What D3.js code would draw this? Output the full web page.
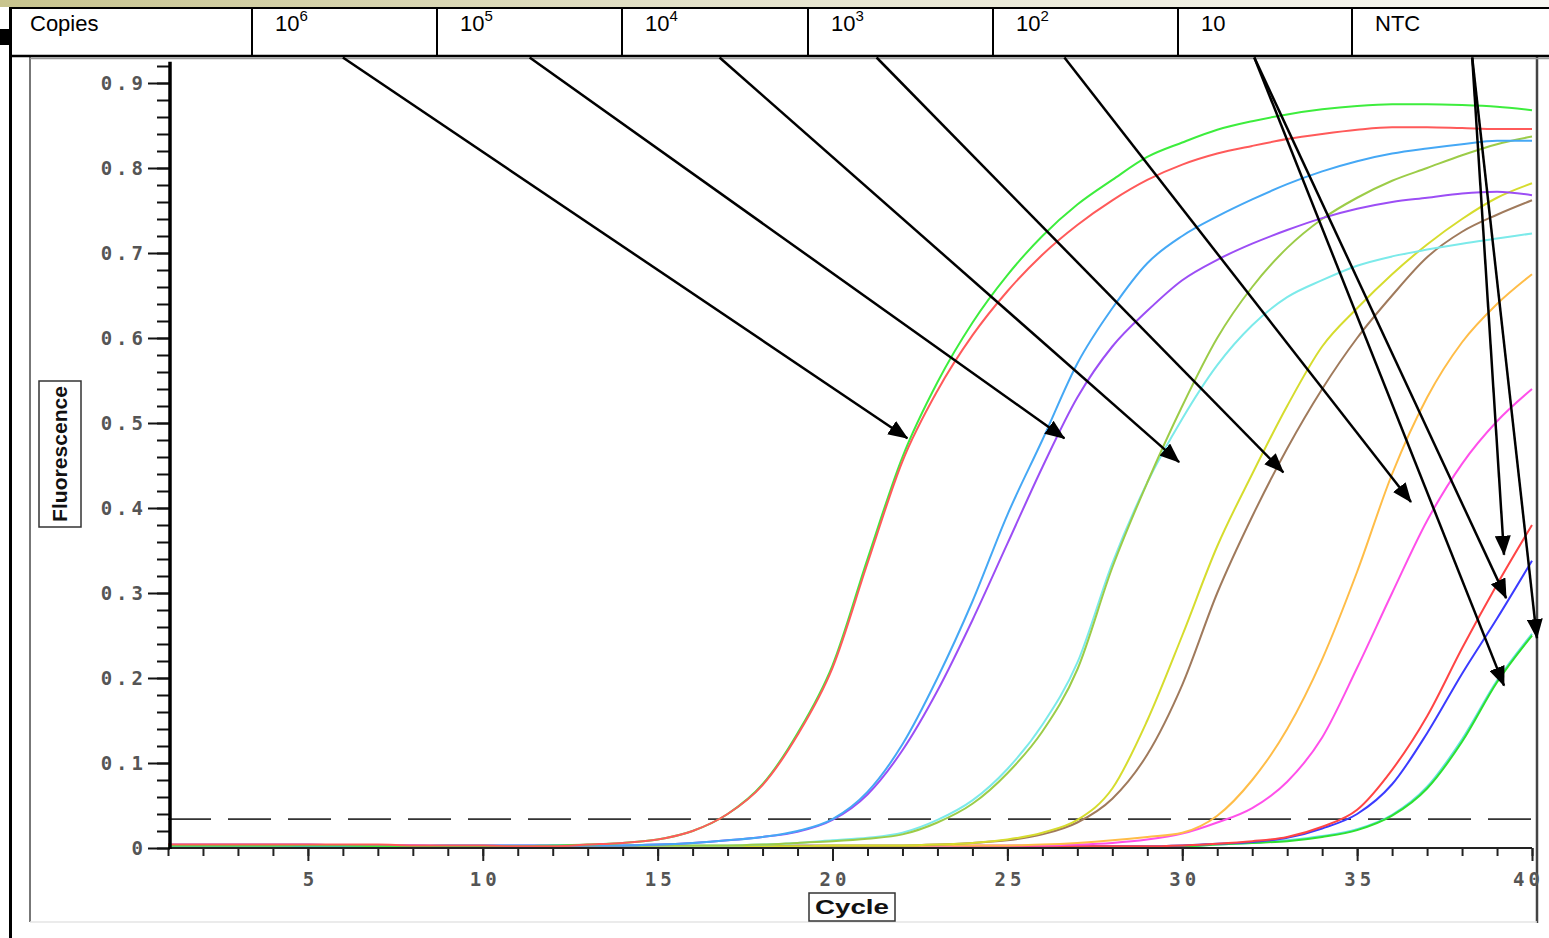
<!DOCTYPE html>
<html lang="en">
<head>
    <meta charset="UTF-8">
    <title>Real-time PCR amplification curves</title>
    <script src="https://d3js.org/d3.v7.min.js"></script>
    <style>
        body { margin: 0; background: #fff; overflow: hidden; }
        .curve { fill: none; stroke-width: 2; }
        .tick-label { font-family: "DejaVu Sans Mono", monospace; font-size: 19px; font-weight: bold; fill: #555; letter-spacing: 4px; }
        .header-text { font-family: "Liberation Sans", Arial, sans-serif; font-size: 22px; fill: #000; }
        .axis-title { font-family: "Liberation Sans Narrow", "Liberation Sans", Arial, sans-serif; font-weight: bold; font-size: 20px; fill: #111; }
    </style>
</head>
<body>
    <div id="chart"></div>
    <script type="text/javascript">
        // cycle numbers along the x axis
        const cycles = [1, 2, 3, 4, 5, 6, 7, 8, 9, 10, 11, 12, 13, 14, 15, 16, 17, 18, 19, 20,
                        21, 22, 23, 24, 25, 26, 27, 28, 29, 30, 31, 32, 33, 34, 35, 36, 37, 38, 39, 40];

        // fluorescence per cycle
        const green1e6 = [0.003, 0.003, 0.003, 0.003, 0.003, 0.003, 0.002, 0.002, 0.002, 0.002, 0.002, 0.003, 0.004, 0.006, 0.010, 0.020, 0.040, 0.075, 0.135, 0.215,
                          0.340, 0.460, 0.548, 0.618, 0.674, 0.720, 0.757, 0.786, 0.813, 0.830, 0.845, 0.855, 0.863, 0.869, 0.873, 0.875, 0.875, 0.874, 0.872, 0.868];
        const red1e6   = [0.004, 0.004, 0.004, 0.004, 0.004, 0.004, 0.004, 0.003, 0.003, 0.003, 0.002, 0.002, 0.004, 0.006, 0.010, 0.020, 0.040, 0.074, 0.133, 0.212,
                          0.335, 0.455, 0.538, 0.603, 0.655, 0.698, 0.733, 0.762, 0.786, 0.804, 0.817, 0.826, 0.834, 0.840, 0.845, 0.848, 0.848, 0.847, 0.846, 0.846];
        const blue1e5  = [0.003, 0.003, 0.003, 0.003, 0.002, 0.002, 0.002, 0.002, 0.003, 0.003, 0.003, 0.003, 0.003, 0.003, 0.004, 0.006, 0.009, 0.013, 0.020, 0.034,
                          0.066, 0.122, 0.200, 0.290, 0.392, 0.480, 0.570, 0.635, 0.688, 0.720, 0.743, 0.763, 0.781, 0.796, 0.808, 0.817, 0.823, 0.828, 0.832, 0.832];
        const purple1e5 = [0.004, 0.004, 0.004, 0.004, 0.004, 0.003, 0.003, 0.003, 0.003, 0.003, 0.003, 0.003, 0.003, 0.003, 0.004, 0.006, 0.009, 0.013, 0.019, 0.033,
                          0.063, 0.115, 0.185, 0.268, 0.358, 0.448, 0.530, 0.590, 0.632, 0.668, 0.692, 0.711, 0.727, 0.741, 0.752, 0.760, 0.765, 0.770, 0.772, 0.768];
        const olive1e4 = [0.001, 0.001, 0.001, 0.001, 0.001, 0.001, 0.002, 0.002, 0.002, 0.002, 0.002, 0.002, 0.002, 0.002, 0.003, 0.003, 0.003, 0.004, 0.006, 0.008,
                          0.011, 0.016, 0.030, 0.052, 0.088, 0.137, 0.210, 0.330, 0.430, 0.520, 0.600, 0.660, 0.706, 0.740, 0.765, 0.785, 0.800, 0.815, 0.828, 0.837];
        const cyan1e4  = [0.002, 0.002, 0.002, 0.002, 0.002, 0.002, 0.002, 0.002, 0.002, 0.002, 0.002, 0.002, 0.002, 0.003, 0.003, 0.003, 0.003, 0.004, 0.006, 0.009,
                          0.012, 0.018, 0.033, 0.056, 0.093, 0.145, 0.218, 0.335, 0.430, 0.505, 0.568, 0.615, 0.648, 0.668, 0.685, 0.696, 0.704, 0.711, 0.717, 0.723];
        const yellow1e3 = [0.002, 0.002, 0.002, 0.002, 0.002, 0.002, 0.002, 0.002, 0.002, 0.002, 0.002, 0.002, 0.002, 0.002, 0.002, 0.002, 0.002, 0.002, 0.002, 0.003,
                          0.003, 0.003, 0.004, 0.006, 0.010, 0.018, 0.033, 0.070, 0.150, 0.250, 0.355, 0.440, 0.520, 0.590, 0.635, 0.675, 0.710, 0.740, 0.765, 0.782];
        const brown1e3 = [0.002, 0.002, 0.002, 0.002, 0.002, 0.002, 0.002, 0.002, 0.002, 0.002, 0.002, 0.002, 0.002, 0.002, 0.002, 0.002, 0.002, 0.002, 0.003, 0.003,
                          0.003, 0.003, 0.004, 0.006, 0.009, 0.016, 0.030, 0.058, 0.110, 0.192, 0.300, 0.390, 0.470, 0.540, 0.600, 0.650, 0.695, 0.725, 0.745, 0.762];
        const orange1e2 = [0.002, 0.002, 0.002, 0.002, 0.002, 0.002, 0.002, 0.002, 0.002, 0.002, 0.002, 0.002, 0.002, 0.002, 0.002, 0.002, 0.002, 0.002, 0.002, 0.002,
                          0.002, 0.002, 0.003, 0.003, 0.003, 0.004, 0.006, 0.009, 0.013, 0.018, 0.038, 0.080, 0.140, 0.222, 0.325, 0.440, 0.530, 0.595, 0.640, 0.675];
        const magenta1e2 = [0.003, 0.003, 0.003, 0.003, 0.003, 0.003, 0.003, 0.003, 0.002, 0.002, 0.002, 0.002, 0.002, 0.002, 0.002, 0.002, 0.002, 0.002, 0.002, 0.002,
                          0.002, 0.002, 0.002, 0.003, 0.003, 0.003, 0.004, 0.006, 0.010, 0.017, 0.030, 0.047, 0.078, 0.130, 0.212, 0.300, 0.385, 0.452, 0.502, 0.540];
        const red10    = [0.002, 0.002, 0.002, 0.002, 0.002, 0.002, 0.002, 0.002, 0.002, 0.002, 0.002, 0.002, 0.002, 0.002, 0.002, 0.002, 0.002, 0.002, 0.002, 0.002,
                          0.002, 0.002, 0.002, 0.002, 0.002, 0.002, 0.002, 0.002, 0.002, 0.003, 0.005, 0.008, 0.013, 0.025, 0.045, 0.092, 0.155, 0.235, 0.310, 0.380];
        const blue10   = [0.002, 0.002, 0.002, 0.002, 0.002, 0.002, 0.002, 0.002, 0.002, 0.002, 0.002, 0.002, 0.002, 0.002, 0.002, 0.002, 0.002, 0.002, 0.002, 0.002,
                          0.002, 0.002, 0.002, 0.002, 0.002, 0.002, 0.002, 0.002, 0.002, 0.003, 0.005, 0.007, 0.012, 0.023, 0.040, 0.075, 0.135, 0.205, 0.270, 0.338];
        const cyanNtc  = [0.001, 0.001, 0.001, 0.001, 0.001, 0.001, 0.001, 0.001, 0.001, 0.001, 0.001, 0.001, 0.001, 0.001, 0.001, 0.001, 0.001, 0.001, 0.001, 0.001,
                          0.001, 0.001, 0.001, 0.001, 0.001, 0.001, 0.001, 0.001, 0.001, 0.002, 0.004, 0.006, 0.009, 0.014, 0.022, 0.039, 0.072, 0.128, 0.197, 0.252];
        const greenNtc = [0.001, 0.001, 0.001, 0.001, 0.001, 0.001, 0.001, 0.001, 0.001, 0.001, 0.001, 0.001, 0.001, 0.001, 0.001, 0.001, 0.001, 0.001, 0.001, 0.001,
                          0.001, 0.001, 0.001, 0.001, 0.001, 0.001, 0.001, 0.001, 0.001, 0.002, 0.004, 0.006, 0.008, 0.013, 0.021, 0.038, 0.070, 0.125, 0.195, 0.250];

        const threshold = 0.034;

        // header table
        const headerBase = ["Copies", "10", "10", "10", "10", "10", "10", "NTC"];
        const headerExp  = ["", "6", "5", "4", "3", "2", "", ""];

        // axis ticks
        const yTickValues = [0, 0.1, 0.2, 0.3, 0.4, 0.5, 0.6, 0.7, 0.8, 0.9];
        const yTickLabels = ["0", "0.1", "0.2", "0.3", "0.4", "0.5", "0.6", "0.7", "0.8", "0.9"];
        const xTickValues = [5, 10, 15, 20, 25, 30, 35, 40];
        const xTickLabels = ["5", "10", "15", "20", "25", "30", "35", "40"];

        // arrows from the header row down to the curves, in chart units
        const arrowFromCycle = [6.0, 11.34, 16.77, 21.26, 26.63, 32.06, 32.06, 38.29, 38.29];
        const arrowToCycle   = [22.14, 26.63, 29.91, 32.89, 36.54, 39.26, 39.2, 39.2, 40.14];
        const arrowToValue   = [0.482, 0.482, 0.454, 0.442, 0.407, 0.294, 0.191, 0.345, 0.247];
        const arrowTopValue  = 0.93;

        const curves = [
            {values: cyanNtc, color: "#62e2e2"},
            {values: greenNtc, color: "#2fe02f"},
            {values: blue10, color: "#3b3bff"},
            {values: red10, color: "#ff4545"},
            {values: magenta1e2, color: "#ff50ea"},
            {values: orange1e2, color: "#ffbd48"},
            {values: brown1e3, color: "#a07a5c"},
            {values: yellow1e3, color: "#d6dc2e"},
            {values: cyan1e4, color: "#7ceaea"},
            {values: olive1e4, color: "#9ccc48"},
            {values: purple1e5, color: "#9c4ef5"},
            {values: blue1e5, color: "#45a8f5"},
            {values: green1e6, color: "#3ded3d"},
            {values: red1e6, color: "#ff5a5a"}
        ];

        const width = 1549, height = 938;
        const svg = d3.select("#chart").append("svg")
            .attr("width", width)
            .attr("height", height);

        const x = d3.scaleLinear().domain([1, 40]).range([168, 1532]);
        const y = d3.scaleLinear().domain([0, 0.9]).range([848, 83]);

        const defs = svg.append("defs");
        const band = defs.append("linearGradient").attr("id", "band");
        band.append("stop").attr("offset", "0%").attr("stop-color", "#c8c48e");
        band.append("stop").attr("offset", "45%").attr("stop-color", "#e4e2ca");
        band.append("stop").attr("offset", "100%").attr("stop-color", "#f8f8f4");

        defs.append("clipPath").attr("id", "plotClip")
            .append("rect").attr("x", 31).attr("y", 57).attr("width", 1505).attr("height", 865);

        defs.append("marker")
            .attr("id", "arrowhead")
            .attr("markerUnits", "userSpaceOnUse")
            .attr("viewBox", "0 0 20 16")
            .attr("markerWidth", 20)
            .attr("markerHeight", 16)
            .attr("refX", 19)
            .attr("refY", 8)
            .attr("orient", "auto")
            .append("path")
            .attr("d", "M0,0L20,8L0,16Z")
            .attr("fill", "#000");

        // top strip
        svg.append("rect").attr("width", width).attr("height", 7).attr("fill", "url(#band)");

        // plot panel
        svg.append("rect").attr("x", 30).attr("y", 57).attr("width", 1507).attr("height", 865).attr("fill", "#fff");
        svg.append("line").attr("x1", 30).attr("x2", 30).attr("y1", 57).attr("y2", 922).attr("stroke", "#777").attr("stroke-width", 2);
        svg.append("line").attr("x1", 1537).attr("x2", 1537).attr("y1", 57).attr("y2", 923).attr("stroke", "#444").attr("stroke-width", 2.5);
        svg.append("line").attr("x1", 30).attr("x2", 1537).attr("y1", 922).attr("y2", 922).attr("stroke", "#e4e4e4").attr("stroke-width", 1.5);
        svg.append("line").attr("x1", 30).attr("x2", 1549).attr("y1", 58.5).attr("y2", 58.5).attr("stroke", "#999").attr("stroke-width", 1.5);

        const plot = svg.append("g").attr("clip-path", "url(#plotClip)");

        // threshold line
        plot.append("line")
            .attr("x1", x(1)).attr("x2", 1536)
            .attr("y1", y(threshold)).attr("y2", y(threshold))
            .attr("stroke", "#333").attr("stroke-width", 1.6)
            .attr("stroke-dasharray", "43,17");

        // amplification curves
        const line = d3.line()
            .x((d, i) => x(cycles[i]))
            .y(d => y(d))
            .curve(d3.curveMonotoneX);

        plot.selectAll(".curve")
            .data(curves)
            .join("path")
            .attr("class", "curve")
            .attr("stroke", d => d.color)
            .attr("d", d => line(d.values));

        // Y axis: minor then major ticks
        const yMinor = svg.append("g").attr("transform", "translate(170,0)")
            .call(d3.axisLeft(y).tickValues(d3.range(0, 0.93, 0.02)).tickSize(13).tickFormat(""));
        const yMajor = svg.append("g").attr("transform", "translate(170,0)")
            .call(d3.axisLeft(y).tickValues(yTickValues).tickSize(22).tickPadding(1)
                .tickFormat((d, i) => yTickLabels[i]));
        [yMinor, yMajor].forEach(g => {
            g.select(".domain").remove();
            g.selectAll(".tick line").attr("stroke", "#111").attr("stroke-width", 2);
        });
        yMajor.selectAll(".tick text").attr("class", "tick-label");
        svg.append("line").attr("x1", 170).attr("x2", 170).attr("y1", y(0) + 1).attr("y2", y(0.925))
            .attr("stroke", "#000").attr("stroke-width", 3.5);

        // X axis: minor then major ticks (labels stay unclipped so "40" is whole)
        const xMinor = plot.append("g").attr("transform", "translate(0,848)")
            .call(d3.axisBottom(x).tickValues(cycles).tickSize(8).tickFormat(""));
        const xMajor = svg.append("g").attr("transform", "translate(0,848)")
            .call(d3.axisBottom(x).tickValues(xTickValues).tickSize(13).tickPadding(12)
                .tickFormat((d, i) => xTickLabels[i]));
        [xMinor, xMajor].forEach(g => {
            g.select(".domain").remove();
            g.selectAll(".tick line").attr("stroke", "#222").attr("stroke-width", 2);
        });
        xMajor.selectAll(".tick text").attr("class", "tick-label").attr("dx", "2");
        xMajor.selectAll(".tick").filter(d => d === 40).select("text").attr("dx", "-4");
        plot.append("line").attr("x1", x(1)).attr("x2", x(40)).attr("y1", y(0)).attr("y2", y(0))
            .attr("stroke", "#222").attr("stroke-width", 2);

        // axis titles in boxes
        svg.append("rect").attr("x", 39).attr("y", 381).attr("width", 42).attr("height", 146)
            .attr("fill", "#fff").attr("stroke", "#333").attr("stroke-width", 1.5);
        svg.append("text").attr("class", "axis-title")
            .attr("transform", "translate(67,454) rotate(-90)")
            .attr("text-anchor", "middle")
            .attr("textLength", 136).attr("lengthAdjust", "spacingAndGlyphs")
            .text("Fluorescence");

        svg.append("rect").attr("x", 809).attr("y", 893).attr("width", 86).attr("height", 28)
            .attr("fill", "#fff").attr("stroke", "#333").attr("stroke-width", 1.5);
        svg.append("text").attr("class", "axis-title")
            .attr("x", 852).attr("y", 914)
            .attr("text-anchor", "middle")
            .attr("textLength", 74).attr("lengthAdjust", "spacingAndGlyphs")
            .text("Cycle");

        // header table
        const colEdges = [10, 252, 437, 622, 808, 993, 1178, 1352, 1549];
        const header = svg.append("g");
        header.append("rect").attr("x", 10).attr("y", 7).attr("width", 1539).attr("height", 49).attr("fill", "#fff");
        header.append("line").attr("x1", 10).attr("x2", 1549).attr("y1", 8).attr("y2", 8).attr("stroke", "#000").attr("stroke-width", 2);
        header.append("line").attr("x1", 10).attr("x2", 1549).attr("y1", 56).attr("y2", 56).attr("stroke", "#000").attr("stroke-width", 2.5);
        header.selectAll(".sep")
            .data(colEdges.slice(1, -1))
            .join("line")
            .attr("x1", d => d).attr("x2", d => d)
            .attr("y1", 7).attr("y2", 56)
            .attr("stroke", "#000").attr("stroke-width", 2);
        header.selectAll(".header-text")
            .data(headerBase)
            .join("text")
            .attr("class", "header-text")
            .attr("x", (d, i) => colEdges[i] + (i === 0 ? 20 : 23))
            .attr("y", 31)
            .each(function (d, i) {
                const t = d3.select(this);
                t.append("tspan").text(d);
                if (headerExp[i]) t.append("tspan").attr("dy", -10).attr("font-size", 15).text(headerExp[i]);
            });

        // outer left rule and marker square
        svg.append("line").attr("x1", 10.5).attr("x2", 10.5).attr("y1", 7).attr("y2", 938).attr("stroke", "#000").attr("stroke-width", 3);
        svg.append("rect").attr("x", 0).attr("y", 29).attr("width", 12).attr("height", 16).attr("fill", "#000");

        // arrows
        svg.selectAll(".pointer")
            .data(arrowToCycle)
            .join("line")
            .attr("class", "pointer")
            .attr("x1", (d, i) => x(arrowFromCycle[i]))
            .attr("y1", y(arrowTopValue))
            .attr("x2", d => x(d))
            .attr("y2", (d, i) => y(arrowToValue[i]))
            .attr("stroke", "#000")
            .attr("stroke-width", 2.5)
            .attr("marker-end", "url(#arrowhead)");
    </script>
</body>
</html>
